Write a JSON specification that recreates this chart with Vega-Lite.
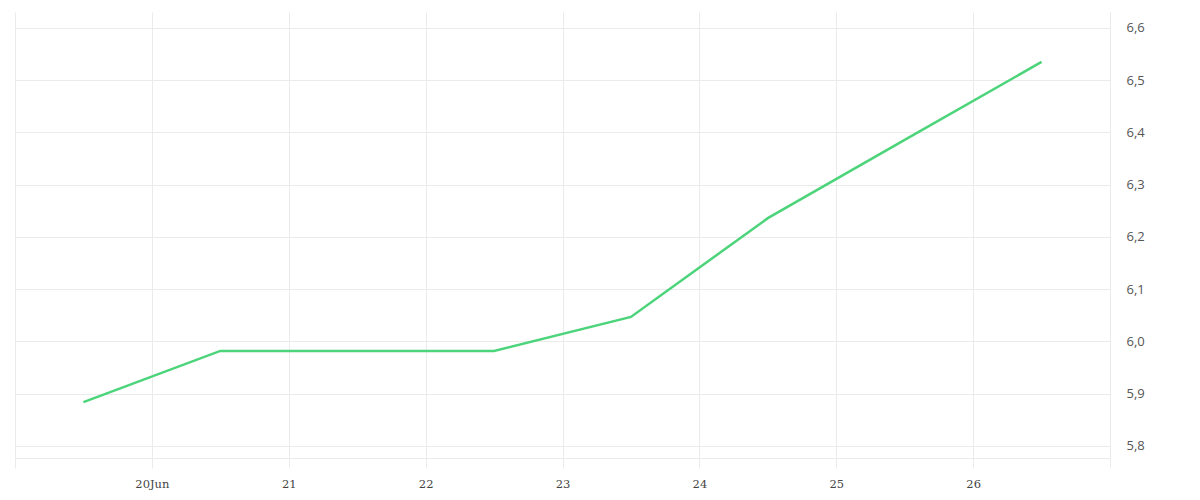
{
  "$schema": "https://vega.github.io/schema/vega-lite/v6.json",
  "width": 1095,
  "height": 446,
  "autosize": "none",
  "padding": {"left": 15, "top": 12, "right": 90, "bottom": 42},
  "background": "white",
  "config": {
    "view": {"stroke": null},
    "axis": {"gridColor": "#ebebeb", "gridWidth": 1}
  },
  "data": {
    "values": [
      {"date": "2024-06-19T12:00:00", "value": 5.884},
      {"date": "2024-06-20T12:00:00", "value": 5.982},
      {"date": "2024-06-21T12:00:00", "value": 5.982},
      {"date": "2024-06-22T12:00:00", "value": 5.982},
      {"date": "2024-06-23T12:00:00", "value": 6.047},
      {"date": "2024-06-24T12:00:00", "value": 6.236},
      {"date": "2024-06-25T12:00:00", "value": 6.386},
      {"date": "2024-06-26T12:00:00", "value": 6.535}
    ]
  },
  "mark": {"type": "line", "color": "#4cd47a", "strokeWidth": 2.5, "clip": true},
  "encoding": {
    "x": {
      "field": "date",
      "type": "temporal",
      "scale": {
        "domain": [
          {"year": 2024, "month": 6, "date": 19, "hours": 0},
          {"year": 2024, "month": 6, "date": 27, "hours": 0}
        ],
        "nice": false
      },
      "axis": {
        "title": null,
        "tickCount": {"interval": "day", "step": 1},
        "labelExpr": "date(datum.value) == 19 || date(datum.value) == 27 ? '' : date(datum.value) == 20 ? '20Jun' : timeFormat(datum.value, '%d')",
        "labelFont": "DejaVu Serif",
        "labelFontSize": 11.5,
        "labelFontWeight": 300,
        "labelColor": "#444444",
        "labelPadding": 10,
        "tickColor": "#ebebeb",
        "tickSize": 10,
        "domainColor": "#ebebeb",
        "grid": true
      }
    },
    "y": {
      "field": "value",
      "type": "quantitative",
      "scale": {"domain": [5.777, 6.6306], "nice": false, "zero": false},
      "axis": {
        "orient": "right",
        "title": null,
        "values": [5.8, 5.9, 6.0, 6.1, 6.2, 6.3, 6.4, 6.5, 6.6],
        "labelExpr": "replace(format(datum.value, '.1f'), '.', ',')",
        "labelFont": "Open Sans",
        "labelFontSize": 13,
        "labelColor": "#555555",
        "labelPadding": 16,
        "ticks": false,
        "domainColor": "#ebebeb",
        "grid": true
      }
    }
  }
}
